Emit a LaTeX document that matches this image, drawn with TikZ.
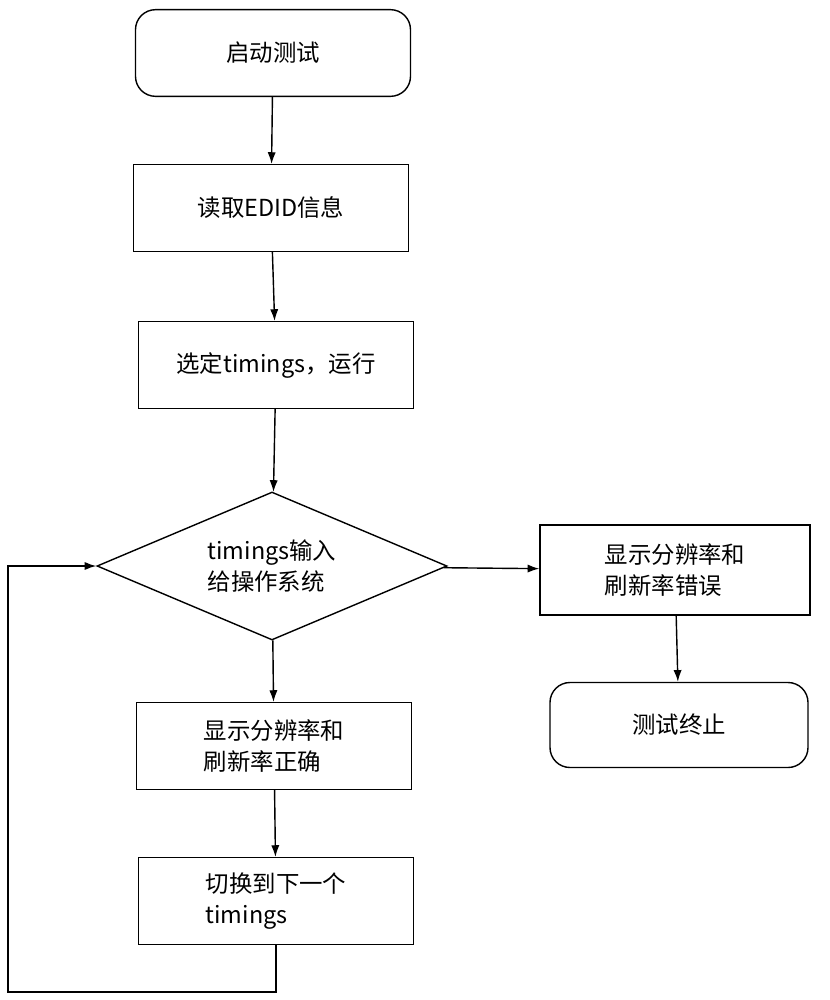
\documentclass[tikz,border=0pt]{standalone}
\usepackage{fontspec}
\setmainfont{Noto Sans CJK SC}
\usetikzlibrary{shapes.geometric,arrows.meta}
\begin{document}
\begin{tikzpicture}[x=0.03cm,y=-0.03cm,
  box/.style={draw,line width=1.2pt,minimum width=8.25cm,minimum height=2.6cm,font=\fontsize{20}{26}\selectfont,align=left},
  rbox/.style={box,rounded corners=0.6cm},
  arr/.style={line width=1.2pt,-{Latex[length=10pt,width=7pt]}}]
\useasboundingbox (0,0) rectangle (829,1000);
\node[rbox] (start) at (273,53) {启动测试};
\node[box] (edid) at (271,208) {读取EDID信息};
\node[box] (sel) at (276,365) {选定timings，运行};
\node[draw,line width=1.2pt,diamond,aspect=2.36,minimum width=10.5cm,minimum height=4.44cm,inner sep=0pt,align=left,font=\fontsize{20}{26}\selectfont] (dec) at (272,566) {timings输入\\给操作系统};
\node[box,minimum width=8.1cm,minimum height=2.7cm] (err) at (675,570) {显示分辨率和\\刷新率错误};
\node[rbox,minimum width=7.74cm,minimum height=2.55cm] (end) at (679,725) {测试终止};
\node[box] (ok) at (274,746) {显示分辨率和\\刷新率正确};
\node[box] (sw) at (276,901) {切换到下一个\\timings};
\coordinate (c1) at (276,992);
\coordinate (c2) at (8,992);
\coordinate (c3) at (8,566);
\draw[arr] (start) -- (edid);
\draw[arr] (edid) -- (sel);
\draw[arr] (sel) -- (dec);
\draw[arr] (dec) -- (err);
\draw[arr] (err) -- (end);
\draw[arr] (dec) -- (ok);
\draw[arr] (ok) -- (sw);
\draw[arr] (sw.south) -- (c1) -- (c2) -- (c3) -- (dec.west);
\end{tikzpicture}
\end{document}
